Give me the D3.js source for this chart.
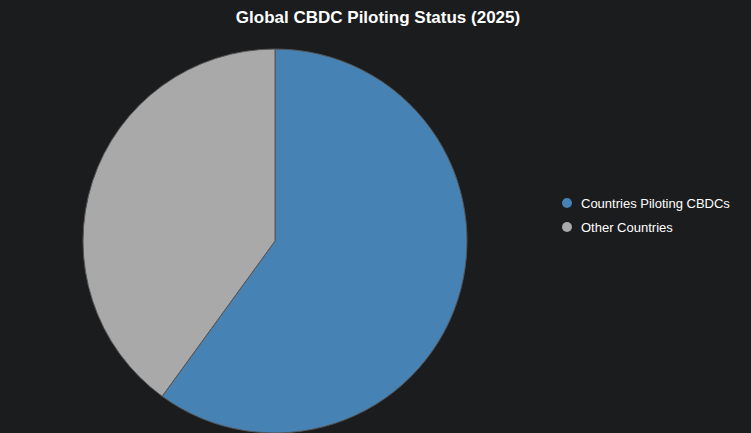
<!DOCTYPE html>
<html>
<head>
<meta charset="utf-8">
<script src="https://cdn.jsdelivr.net/npm/d3@7"></script>
<style>
  body { margin: 0; background: #1b1c1e; }
  svg { display: block; font-family: "Liberation Sans", Arial, sans-serif; }
</style>
</head>
<body>
<div id="svg-container"></div>
<script>
// data
const labels = ["Countries Piloting CBDCs", "Other Countries"];
const values = [60, 40];
const colors = ["#4682b4", "#a9a9a9"];

const width = 751, height = 433;
const cx = 275, cy = 241, radius = 192;

const svg = d3.select("#svg-container").append("svg")
  .attr("width", width).attr("height", height);

svg.append("rect").attr("width", width).attr("height", height).attr("fill", "#1b1c1e");

// title
svg.append("text")
  .attr("x", 378).attr("y", 23)
  .attr("text-anchor", "middle")
  .attr("fill", "#fff")
  .attr("font-size", 17)
  .attr("font-weight", "bold")
  .text("Global CBDC Piloting Status (2025)");

// pie
const pie = d3.pie().sort(null).value((d) => d);
const arc = d3.arc().innerRadius(0).outerRadius(radius);

svg.append("g")
  .attr("transform", `translate(${cx}, ${cy})`)
  .selectAll("path")
  .data(pie(values))
  .join("path")
  .attr("d", arc)
  .attr("fill", (d, i) => colors[i])
  .attr("stroke", "#555")
  .attr("stroke-width", 1);

// legend
const legend = svg.append("g").attr("transform", "translate(567, 203)");
const item = legend.selectAll("g")
  .data(labels)
  .join("g")
  .attr("transform", (d, i) => `translate(0, ${i * 24})`);

item.append("circle").attr("r", 5).attr("fill", (d, i) => colors[i]);
item.append("text")
  .attr("x", 14).attr("dy", "0.35em")
  .attr("fill", "#fff")
  .attr("font-size", 13)
  .text((d) => d);
</script>
</body>
</html>
